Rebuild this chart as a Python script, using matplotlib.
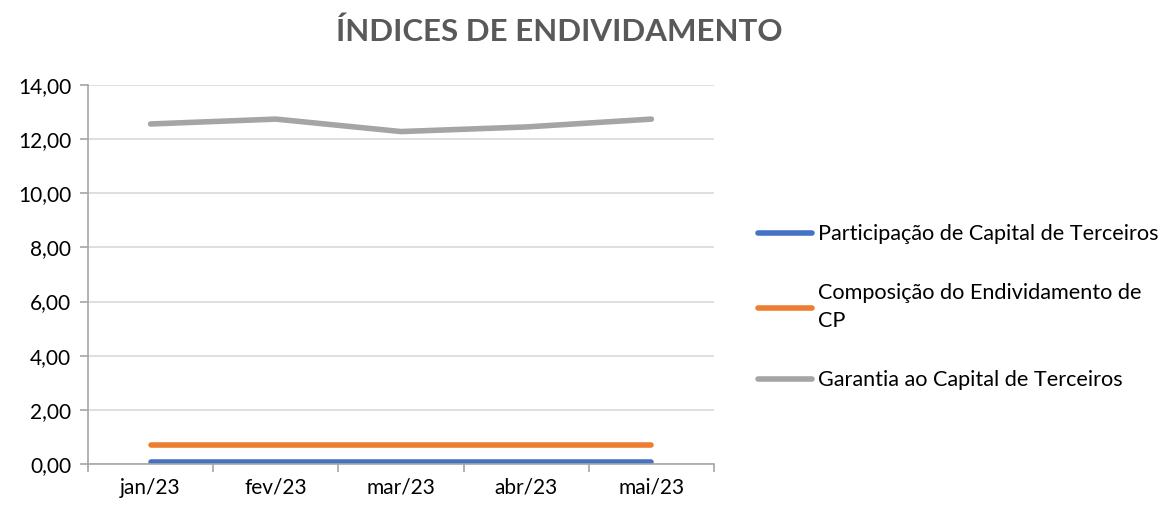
import matplotlib.pyplot as plt
import numpy as np

plt.rcParams['font.family'] = ['Lato', 'DejaVu Sans']

meses = ['jan/23', 'fev/23', 'mar/23', 'abr/23', 'mai/23']
part_capital_terceiros = [0.06, 0.06, 0.06, 0.06, 0.06]
composicao_endiv_cp = [0.72, 0.72, 0.72, 0.72, 0.72]
garantia_capital_terceiros = [12.56, 12.74, 12.28, 12.45, 12.74]

labels = ['Participação de Capital de Terceiros',
          'Composição do Endividamento de\nCP',
          'Garantia ao Capital de Terceiros']
cores = ['#4472C4', '#ED7D31', '#A5A5A5']

fig = plt.figure(figsize=(11.73, 5.08), dpi=100)
ax = fig.add_axes([0.075, 0.0866, 0.5337, 0.7461])

x = np.arange(len(meses))
series = [part_capital_terceiros, composicao_endiv_cp, garantia_capital_terceiros]
for vals, cor, lab in zip(series, cores, labels):
    ax.plot(x, vals, color=cor, lw=4, solid_capstyle='round', label=lab)

ax.set_xlim(-0.5, len(meses) - 0.5)
ax.set_ylim(0, 14)
ax.set_yticks(np.arange(0, 15, 2))
ax.set_yticklabels([f'{v:.2f}'.replace('.', ',') for v in np.arange(0, 15, 2)])
ax.set_xticks(x)
ax.set_xticklabels(meses)
ax.set_xticks(np.arange(-0.5, len(meses), 1), minor=True)
ax.tick_params(axis='x', which='major', length=0, pad=10, labelsize=15, colors='#000000')
ax.tick_params(axis='x', which='minor', length=6, color='#A6A6A6', width=1.2)
ax.tick_params(axis='y', length=6, color='#A6A6A6', width=1.2, labelsize=15, pad=6)
ax.yaxis.grid(True, color='#D9D9D9', lw=1.2)
ax.set_axisbelow(True)
for s in ['top', 'right']:
    ax.spines[s].set_visible(False)
for s in ['left', 'bottom']:
    ax.spines[s].set_color('#A6A6A6')
    ax.spines[s].set_linewidth(1.2)

fig.suptitle('ÍNDICES DE ENDIVIDAMENTO', x=0.477, y=0.965, fontsize=22.5,
             fontweight='bold', color='#595959')

leg = fig.legend(loc='center left', bbox_to_anchor=(0.630, 0.395), frameon=False,
                 fontsize=15.6, handlelength=2.45, handletextpad=0.3, labelspacing=1.8)
for t in leg.get_texts():
    t.set_linespacing(1.5)

fig.savefig('out.png', dpi=100)
